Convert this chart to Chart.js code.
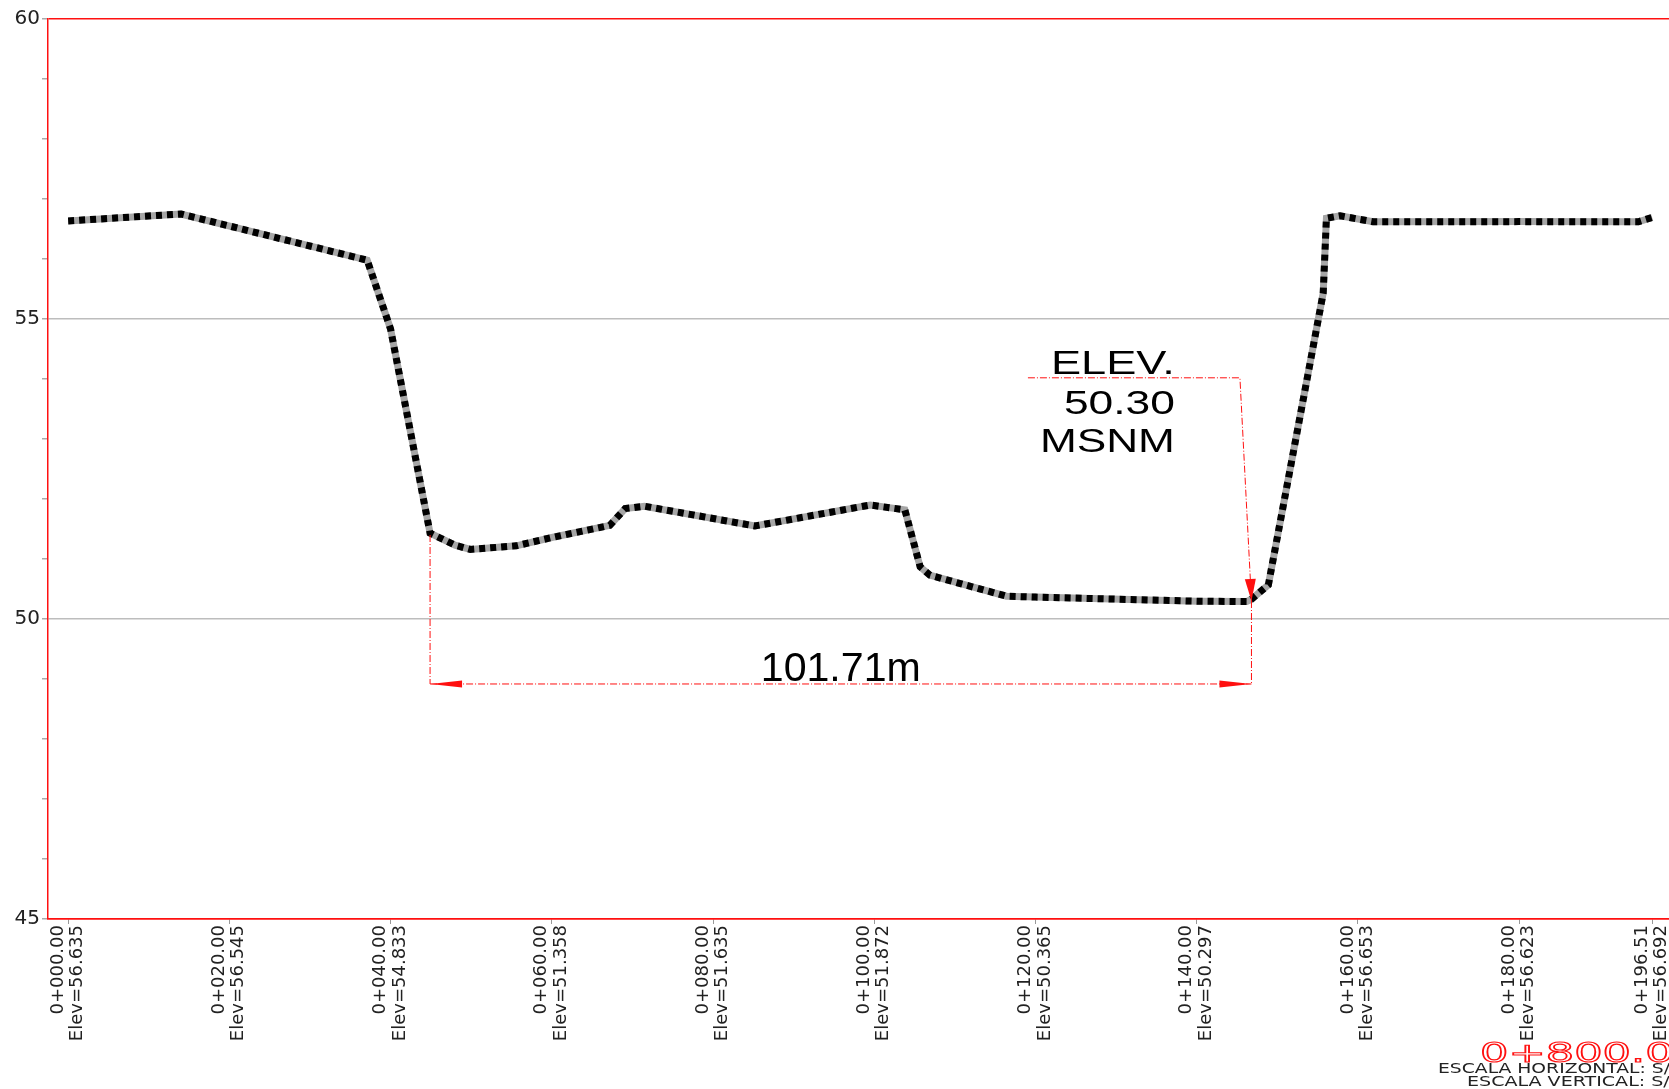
<!DOCTYPE html>
<html><head><meta charset="utf-8">
<script src="https://cdn.jsdelivr.net/npm/chart.js@4.4.0/dist/chart.umd.min.js"></script>
<style>html,body{margin:0;padding:0;background:#fff;overflow:hidden}#wrap{width:1669px;height:1089px;position:relative}</style>
</head><body><div id="wrap"><canvas id="c" width="1669" height="1089"></canvas></div>
<script>
// ---- data ----
const stations   = [0, 14.0, 37.1, 40.0, 44.9, 48.0, 49.9, 55.6, 60.0, 67.2, 69.1, 71.5, 85.2, 99.5, 103.8, 105.7, 106.9, 116.4, 120.0, 140.0, 146.2, 146.8, 148.9, 155.7, 156.1, 157.8, 161.9, 180.0, 194.8, 196.51];
const elevations = [56.635, 56.75, 55.98, 54.833, 51.43, 51.23, 51.16, 51.22, 51.358, 51.56, 51.84, 51.88, 51.55, 51.90, 51.82, 50.87, 50.73, 50.38, 50.365, 50.297, 50.29, 50.33, 50.57, 55.43, 56.68, 56.72, 56.62, 56.623, 56.62, 56.692];
const tickStations      = [0, 20, 40, 60, 80, 100, 120, 140, 160, 180, 196.51];
const tickStationLabels = ['0+000.00','0+020.00','0+040.00','0+060.00','0+080.00','0+100.00','0+120.00','0+140.00','0+160.00','0+180.00','0+196.51'];
const tickElevLabels    = ['Elev=56.635','Elev=56.545','Elev=54.833','Elev=51.358','Elev=51.635','Elev=51.872','Elev=50.365','Elev=50.297','Elev=56.653','Elev=56.623','Elev=56.692'];
const yMajorTicks = [45, 50, 55, 60];
const yGridLines  = [50, 55];
const sectionTitle = '0+800.00';
const scaleNotes   = ['ESCALA HORIZONTAL: S/N', 'ESCALA VERTICAL: S/N'];
const widthLabel   = '101.71m';
const widthFrom = 44.9, widthTo = 146.8, widthLevel = 48.917, widthFromTop = 51.40;
const waterLabel   = ['ELEV.', '50.30', 'MSNM'];
const waterStation = 146.8, waterElev = 50.30;
const leaderFrom = 119.07, leaderTo = 145.37, leaderElev = 54.02, waterTextStation = 137.3;

const RED = '#ff1010';
const points = stations.map((s, i) => ({x: s, y: elevations[i]}));

function arrow(ctx, tx, ty, dx, dy, len, hw) {
  const d = Math.hypot(dx, dy); dx /= d; dy /= d;
  const bx = tx - dx * len, by = ty - dy * len, nx = -dy, ny = dx;
  ctx.beginPath(); ctx.moveTo(tx, ty);
  ctx.lineTo(bx + nx * hw, by + ny * hw); ctx.lineTo(bx - nx * hw, by - ny * hw);
  ctx.closePath(); ctx.fill();
}
function fitText(ctx, text, x, y, width, align, stroke) {
  const w = ctx.measureText(text).width;
  ctx.save(); ctx.translate(x, y); ctx.scale(width / w, 1);
  ctx.textAlign = align;
  if (stroke) ctx.strokeText(text, 0, 0); else ctx.fillText(text, 0, 0);
  ctx.restore();
}

const annot = {
  id: 'annot',
  afterDatasetsDraw(chart) {
    const {ctx, scales: {x, y}} = chart;
    ctx.save();
    ctx.strokeStyle = RED; ctx.fillStyle = RED; ctx.lineWidth = 1;
    ctx.setLineDash([7, 2, 1, 2]);
    // dimension line
    const x1 = x.getPixelForValue(widthFrom), x2 = x.getPixelForValue(widthTo), yd = y.getPixelForValue(widthLevel);
    ctx.beginPath();
    ctx.moveTo(x1, yd); ctx.lineTo(x2, yd);
    ctx.moveTo(x1, y.getPixelForValue(widthFromTop)); ctx.lineTo(x1, yd);
    ctx.moveTo(x2, y.getPixelForValue(waterElev)); ctx.lineTo(x2, yd);
    ctx.stroke();
    ctx.setLineDash([]);
    arrow(ctx, x1, yd, -1, 0, 32, 3.5);
    arrow(ctx, x2, yd, 1, 0, 32, 3.5);
    // dimension text
    ctx.fillStyle = '#000';
    ctx.font = '40px "Liberation Sans", Arial, sans-serif';
    ctx.textBaseline = 'alphabetic';
    fitText(ctx, widthLabel, (x1 + x2) / 2, yd - 3, 160, 'center');
    // water level leader
    ctx.strokeStyle = RED; ctx.fillStyle = RED;
    ctx.setLineDash([7, 2, 1, 2]);
    const lx1 = x.getPixelForValue(leaderFrom), lx2 = x.getPixelForValue(leaderTo), ly = y.getPixelForValue(leaderElev);
    const tx = x.getPixelForValue(waterStation), ty = y.getPixelForValue(waterElev);
    ctx.beginPath(); ctx.moveTo(lx1, ly); ctx.lineTo(lx2, ly); ctx.lineTo(tx, ty); ctx.stroke();
    ctx.setLineDash([]);
    arrow(ctx, tx, ty, tx - lx2, ty - ly, 22, 5.5);
    // water text
    ctx.fillStyle = '#000';
    ctx.font = '34px "Liberation Sans", Arial, sans-serif';
    const rx = x.getPixelForValue(waterTextStation);
    fitText(ctx, waterLabel[0], rx, ly - 4, 124, 'right');
    fitText(ctx, waterLabel[1], rx, ly + 36, 111, 'right');
    fitText(ctx, waterLabel[2], rx, ly + 74, 135, 'right');
    // title block bottom right
    ctx.font = '26px "DejaVu Sans", sans-serif';
    ctx.strokeStyle = RED; ctx.lineWidth = 1.1;
    ctx.textBaseline = 'alphabetic';
    fitText(ctx, sectionTitle, 1480, 1062, 222, 'left', true);
    ctx.fillStyle = '#222';
    ctx.font = '14px "DejaVu Sans", sans-serif';
    fitText(ctx, scaleNotes[0], 1438, 1073, 246, 'left');
    fitText(ctx, scaleNotes[1], 1467, 1086, 217, 'left');
    ctx.restore();
  }
};

new Chart(document.getElementById('c'), {
  type: 'line',
  data: {
    datasets: [
      {data: points, borderColor: '#000', borderWidth: 7, borderDash: [6, 5], pointRadius: 0, tension: 0, borderCapStyle: 'butt', borderJoinStyle: 'miter'},
      {data: points, borderColor: '#a6a6a6', borderWidth: 7, pointRadius: 0, tension: 0, borderCapStyle: 'butt', borderJoinStyle: 'miter'}
    ]
  },
  options: {
    responsive: false, animation: false, devicePixelRatio: 1,
    layout: {padding: {top: 19, left: 0, right: 0, bottom: 0}},
    plugins: {legend: {display: false}, tooltip: {enabled: false}},
    scales: {
      x: {
        type: 'linear', min: -2.5, max: 198.6,
        afterBuildTicks: s => { s.ticks = tickStations.map(v => ({value: v})); },
        afterFit: s => { s.height = 170; s.paddingLeft = 0; s.paddingRight = 0; },
        ticks: {
          autoSkip: false, maxRotation: 90, minRotation: 90, padding: 1, labelOffset: -10,
          color: '#222', font: {family: '"DejaVu Sans", sans-serif', size: 18, lineHeight: 1.08},
          callback: v => { const i = tickStations.indexOf(v); return [tickStationLabels[i], tickElevLabels[i]]; }
        },
        grid: {drawOnChartArea: false, drawTicks: true, tickLength: 5, tickColor: '#999'},
        border: {color: RED, width: 1.5}
      },
      y: {
        type: 'linear', min: 45, max: 60,
        afterFit: s => { s.width = 48; s.paddingTop = 0; s.paddingBottom = 0; },
        ticks: {
          stepSize: 1, padding: 2, color: '#222',
          font: {family: '"DejaVu Sans", sans-serif', size: 20},
          callback: v => yMajorTicks.includes(v) ? String(v) : ''
        },
        grid: {
          drawTicks: true, tickLength: 6, tickColor: '#aaa', lineWidth: 1.5,
          color: c => {
            const v = c.tick && c.tick.value;
            if (v === 60 || v === 45) return RED;
            return yGridLines.includes(v) ? '#bdbdbd' : 'rgba(0,0,0,0)';
          }
        },
        border: {color: RED, width: 1.5}
      }
    }
  },
  plugins: [annot]
});
</script></body></html>
